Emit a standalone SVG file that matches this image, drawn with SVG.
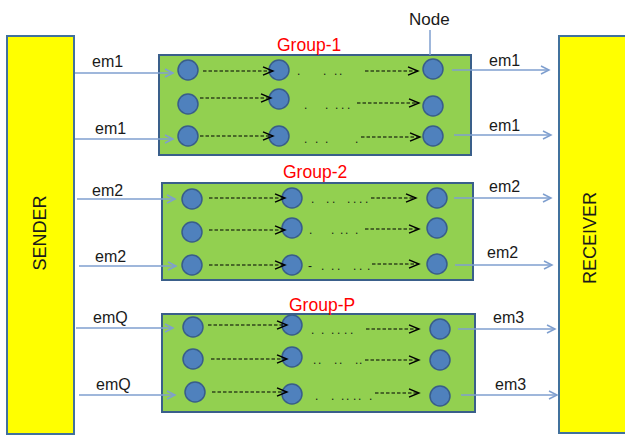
<svg xmlns="http://www.w3.org/2000/svg" width="625" height="436" viewBox="0 0 625 436">
<defs>
<marker id="ab" markerUnits="userSpaceOnUse" markerWidth="12" markerHeight="12" refX="9" refY="5" orient="auto">
<path d="M1,1 L9,5 L1,9" fill="none" stroke="#7F9FCF" stroke-width="1.5"/>
</marker>
<marker id="ak" markerUnits="userSpaceOnUse" markerWidth="14" markerHeight="12" refX="11" refY="5" orient="auto">
<path d="M1,0.8 L11,5 L1,9.2" fill="none" stroke="#000" stroke-width="1.4"/>
</marker>
<style>
.side{fill:#FFFF00;stroke:#41719C;stroke-width:2}
.box{fill:#92D050;stroke:#3A5F8A;stroke-width:2}
.nd{fill:#4F81BD;stroke:#385D8A;stroke-width:1.5}
.em{stroke:#7F9FCF;stroke-width:1.5;fill:none;marker-end:url(#ab)}
.da{stroke:#000;stroke-width:1.2;stroke-dasharray:3.5 2;fill:none;marker-end:url(#ak)}
.t{font-family:"Liberation Sans",Arial,sans-serif;font-size:16px;fill:#1a1a1a}
.g{font-family:"Liberation Sans",Arial,sans-serif;font-size:17.5px;fill:#FF0000}
.dot{font-family:"Liberation Sans",Arial,sans-serif;font-size:12px;fill:#1a1a1a}
.big{font-family:"Liberation Sans",Arial,sans-serif;font-size:18px;fill:#1a1a1a}
</style>
</defs>
<rect width="625" height="436" fill="#fff"/>

<g id="sender">
<rect class="side" x="7" y="36" width="67" height="398"/>
<text class="big" transform="translate(46,233) rotate(-90)" text-anchor="middle">SENDER</text>
</g>
<g id="receiver">
<rect class="side" x="559" y="36" width="70" height="397"/>
<text class="big" transform="translate(596,238) rotate(-90)" text-anchor="middle">RECEIVER</text>
</g>

<g id="group-1">
<rect class="box" x="159" y="55" width="312" height="100"/>
<text class="g" x="277" y="51">Group-1</text>
<circle class="nd" cx="188" cy="70" r="10"/>
<circle class="nd" cx="188" cy="104" r="10"/>
<circle class="nd" cx="188" cy="136" r="10"/>
<circle class="nd" cx="279" cy="70" r="10"/>
<circle class="nd" cx="279" cy="99" r="10"/>
<circle class="nd" cx="279" cy="136" r="10"/>
<circle class="nd" cx="433" cy="69" r="10"/>
<circle class="nd" cx="433" cy="106" r="10"/>
<circle class="nd" cx="433" cy="136" r="10"/>
<text class="dot" x="297 323 334 339" y="75">....</text>
<text class="dot" x="304 325 335 341 347" y="109">.....</text>
<text class="dot" x="304 315 325 355" y="143">....</text>
</g>

<g id="group-2">
<rect class="box" x="162" y="183" width="311" height="97"/>
<text class="g" x="283" y="178">Group-2</text>
<circle class="nd" cx="192" cy="199" r="10"/>
<circle class="nd" cx="192" cy="232" r="10"/>
<circle class="nd" cx="192" cy="265" r="10"/>
<circle class="nd" cx="292" cy="198" r="10"/>
<circle class="nd" cx="292" cy="228" r="10"/>
<circle class="nd" cx="292" cy="265" r="10"/>
<circle class="nd" cx="437" cy="198" r="10"/>
<circle class="nd" cx="437" cy="228" r="10"/>
<circle class="nd" cx="437" cy="264" r="10"/>
<text class="dot" x="311 326 332 347 353 359 365" y="203">.......</text>
<text class="dot" x="309 331 340 345 355" y="234">.....</text>
<text class="dot" x="308 321 331 337 353 359 367" y="270">-......</text>
</g>

<g id="group-p">
<rect class="box" x="162" y="314" width="313" height="98"/>
<text class="g" x="289" y="311">Group-P</text>
<circle class="nd" cx="193" cy="327" r="10"/>
<circle class="nd" cx="193" cy="359" r="10"/>
<circle class="nd" cx="195" cy="392" r="10"/>
<circle class="nd" cx="292" cy="325" r="10"/>
<circle class="nd" cx="292" cy="357" r="10"/>
<circle class="nd" cx="292" cy="394" r="10"/>
<circle class="nd" cx="440" cy="329" r="10"/>
<circle class="nd" cx="440" cy="360" r="10"/>
<circle class="nd" cx="440" cy="396" r="10"/>
<text class="dot" x="311 321 331 337 344 350" y="334">......</text>
<text class="dot" x="313 318 334 339 355 359" y="364">......</text>
<text class="dot" x="315 331 341 346 353 358 369" y="400">.......</text>
</g>

<g id="node-label">
<text class="t" x="409" y="25" style="font-size:17px">Node</text>
<line x1="430" y1="30" x2="430" y2="55" stroke="#7F9FCF" stroke-width="1.5"/>
</g>

<g id="connectors">
<path class="da" d="M203,71 H273"/>
<path class="da" d="M200,98 H271"/>
<path class="da" d="M200,136 H273"/>
<path class="da" d="M365,71 H418"/>
<path class="da" d="M357,103 H419"/>
<path class="da" d="M361,137 H420"/>

<path class="da" d="M209,198 H285"/>
<path class="da" d="M209,230 H285"/>
<path class="da" d="M209,265 H285"/>
<path class="da" d="M371,198 H416"/>
<path class="da" d="M365,229 H419"/>
<path class="da" d="M372,264 H419"/>

<path class="da" d="M208,325 H287"/>
<path class="da" d="M211,359 H287"/>
<path class="da" d="M212,392 H287"/>
<path class="da" d="M366,329 H419"/>
<path class="da" d="M365,360 H419"/>
<path class="da" d="M375,393 H419"/>

<path class="em" d="M75,73 H173"/>
<path class="em" d="M75,139 H173"/>
<path class="em" d="M452,70 H549"/>
<path class="em" d="M454,135 H551"/>
<path class="em" d="M77,199 H175"/>
<path class="em" d="M79,266 H176"/>
<path class="em" d="M454,198 H551"/>
<path class="em" d="M455,265 H552"/>
<path class="em" d="M76,328 H173"/>
<path class="em" d="M79,395 H175"/>
<path class="em" d="M458,329 H555"/>
<path class="em" d="M461,395 H557"/>

<text class="t" x="92" y="67">em1</text>
<text class="t" x="95" y="134">em1</text>
<text class="t" x="489" y="66">em1</text>
<text class="t" x="489" y="131">em1</text>
<text class="t" x="92" y="196">em2</text>
<text class="t" x="95" y="262">em2</text>
<text class="t" x="489" y="192">em2</text>
<text class="t" x="487" y="258">em2</text>
<text class="t" x="93" y="323">emQ</text>
<text class="t" x="96" y="390">emQ</text>
<text class="t" x="493" y="323">em3</text>
<text class="t" x="495" y="390">em3</text>
</g>
</svg>
